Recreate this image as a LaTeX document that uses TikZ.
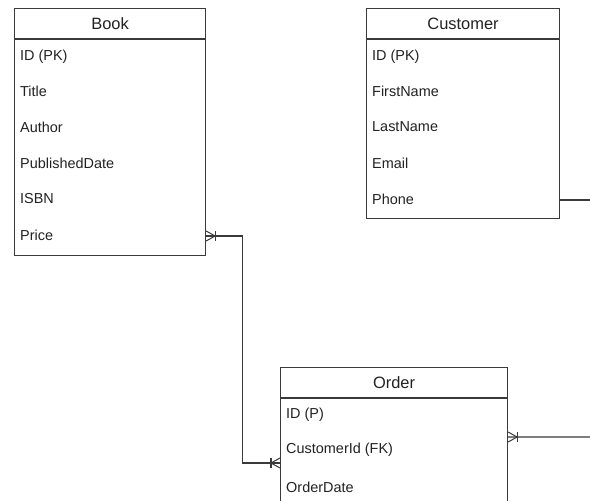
\documentclass[tikz,border=0pt]{standalone}
\usepackage{fontspec}
\setmainfont{Liberation Sans}
\begin{document}
\begin{tikzpicture}[x=1bp,y=-1bp,
  entity/.style={draw=linegray,line width=1.1bp,fill=white,inner sep=0pt,anchor=north west},
  hdr/.style={font=\fontsize{16.5}{18}\selectfont,text=textgray,inner sep=0pt},
  row/.style={font=\fontsize{14.5}{16}\selectfont,text=textgray,anchor=west,inner sep=0pt},
  conn/.style={draw=linegray,line width=1.1bp},
  crowsfoot/.pic={
    \draw[linegray,line width=1bp] (0,-5) -- (9,0) -- (0,5);
    \draw[linegray,line width=1.2bp] (9,-5) -- (9,5);
  }]
\definecolor{linegray}{HTML}{3A3A3A}
\definecolor{textgray}{HTML}{222222}
\useasboundingbox (0,0) rectangle (590,501);
\clip (0,0) rectangle (590,501);
\fill[white] (0,0) rectangle (590,501);

% Book table
\node[entity,minimum width=191bp,minimum height=247bp] (book) at (14,8) {};
\draw[conn] ([yshift=-31bp]book.north west) -- ([yshift=-31bp]book.north east);
\node[hdr] (bookT) at ([yshift=-16bp]book.north) {Book};
\node[row] (b1) at (20,57) {ID (PK)};
\node[row] (b2) at (20,91) {Title};
\node[row] (b3) at (20,127) {Author};
\node[row] (b4) at (20,163) {PublishedDate};
\node[row] (b5) at (20,199) {ISBN};
\node[row] (b6) at (20,235) {Price};

% Customer table
\node[entity,minimum width=193bp,minimum height=210bp] (cust) at (366,8) {};
\draw[conn] ([yshift=-31bp]cust.north west) -- ([yshift=-31bp]cust.north east);
\node[hdr] (custT) at ([yshift=-16bp]cust.north) {Customer};
\node[row] (c1) at (372,57) {ID (PK)};
\node[row] (c2) at (372,91) {FirstName};
\node[row] (c3) at (372,127) {LastName};
\node[row] (c4) at (372,163) {Email};
\node[row] (c5) at (372,199) {Phone};

% Order table (continues below the visible area)
\node[entity,minimum width=227bp,minimum height=160bp] (order) at (280,367) {};
\draw[conn] ([yshift=-31bp]order.north west) -- ([yshift=-31bp]order.north east);
\node[hdr] (orderT) at ([yshift=-16bp]order.north) {Order};
\node[row] (o1) at (286,415) {ID (P)};
\node[row] (o2) at (286,450) {CustomerId (FK)};
\node[row] (o3) at (286,487) {OrderDate};

% Connection points
\coordinate (bookPrice) at (book.east |- 0,236);
\coordinate (orderFK) at ([yshift=-96bp]order.north west);
\coordinate (orderR) at ([yshift=-70bp]order.north east);
\coordinate (ordOut) at (600,437);
\coordinate (custPhone) at (cust.east |- 0,200);
\coordinate (custOut) at (600,200);

% Relationships
\draw[conn] (bookPrice) -- ++(36,0) |- (orderFK);
\pic at (bookPrice) {crowsfoot};
\pic[rotate=180] at (orderFK) {crowsfoot};
\draw[conn] (orderR) -- (ordOut);
\pic at (orderR) {crowsfoot};
\draw[conn] (custPhone) -- (custOut);
\end{tikzpicture}
\end{document}
